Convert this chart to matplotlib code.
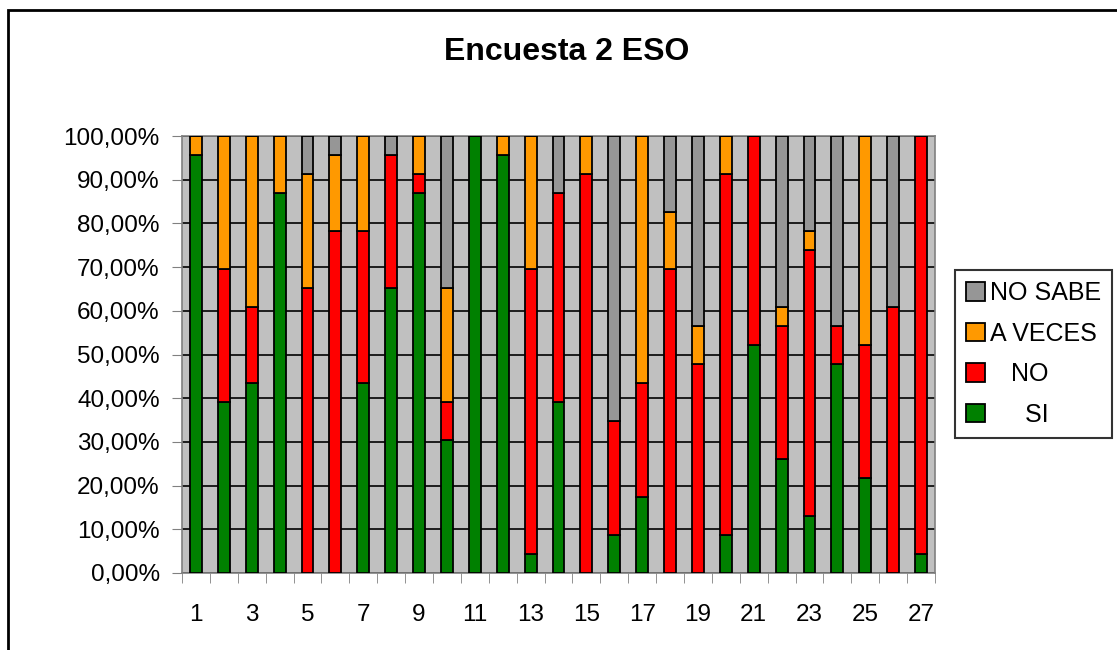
import matplotlib
matplotlib.use("Agg")
import matplotlib.pyplot as plt
from matplotlib.patches import Patch, Rectangle
from matplotlib.ticker import FixedLocator, FuncFormatter
import numpy as np

plt.rcParams['font.family'] = ['Liberation Sans', 'DejaVu Sans']

# porcentajes por pregunta (23 alumnos)
preguntas = list(range(1, 28))
si = [95.65, 39.13, 43.48, 86.96, 0, 0, 43.48, 65.22, 86.96, 30.43, 100, 95.65, 4.35, 39.13,
      0, 8.70, 17.39, 0, 0, 8.70, 52.17, 26.09, 13.04, 47.83, 21.74, 0, 4.35]
no = [0, 30.43, 17.39, 0, 65.22, 78.26, 34.78, 30.43, 4.35, 8.70, 0, 0, 65.22, 47.83,
      91.30, 26.09, 26.09, 69.57, 47.83, 82.61, 47.83, 30.43, 60.87, 8.70, 30.43, 60.87, 95.65]
a_veces = [4.35, 30.43, 39.13, 13.04, 26.09, 17.39, 21.74, 0, 8.70, 26.09, 0, 4.35, 30.43, 0,
           8.70, 0, 56.52, 13.04, 8.70, 8.70, 0, 4.35, 4.35, 0, 47.83, 0, 0]
no_sabe = [0, 0, 0, 0, 8.70, 4.35, 0, 4.35, 0, 34.78, 0, 0, 0, 13.04,
           0, 65.22, 0, 17.39, 43.48, 0, 0, 39.13, 21.74, 43.48, 0, 39.13, 0]

series = [("SI", si, "#008000"), ("NO", no, "#FF0000"),
          ("A VECES", a_veces, "#FF9900"), ("NO SABE", no_sabe, "#969696")]

fig = plt.figure(figsize=(11.17, 6.5), dpi=100)
ax = fig.add_axes([182 / 1117, 77 / 650, (935 - 182) / 1117, (573 - 136) / 650])
ax.set_facecolor("#C0C0C0")

x = np.arange(len(preguntas))
bottom = np.zeros(len(preguntas))
for name, vals, col in series:
    vals = np.array(vals)
    ax.bar(x, vals, width=0.43, bottom=bottom, color=col, edgecolor="black",
           linewidth=1.3, zorder=3)
    bottom += vals

ax.set_xlim(-0.5, len(preguntas) - 0.5)
ax.set_ylim(0, 100)
ax.set_yticks(np.arange(0, 101, 10))
ax.yaxis.set_major_formatter(FuncFormatter(lambda v, p: f"{v:.2f}%".replace(".", ",")))
ax.grid(axis="y", color="black", linewidth=1.2, zorder=1)

ax.xaxis.set_major_locator(FixedLocator(x[::2]))
ax.set_xticklabels([str(p) for p in preguntas[::2]])
ax.xaxis.set_minor_locator(FixedLocator(np.arange(-0.5, len(preguntas), 1)))
ax.tick_params(axis="x", which="major", length=0, pad=22, labelsize=17.5)
ax.tick_params(axis="x", which="minor", length=7, color="#808080", direction="out")
ax.tick_params(axis="y", length=7, color="#808080", labelsize=17.5, pad=9)

for s in ax.spines.values():
    s.set_color("#808080")
    s.set_linewidth(1.2)

fig.text(567 / 1117, 1 - 52 / 650, "Encuesta 2 ESO", ha="center", va="center",
         fontsize=23, fontweight="bold")

handles = [Patch(facecolor=c, edgecolor="black", linewidth=1.3) for _, _, c in series[::-1]]
labels = ["NO SABE", "A VECES", "   NO", "     SI"]
leg = fig.legend(handles, labels, loc="center left", bbox_to_anchor=(955 / 1117, 1 - 354 / 650),
                 fontsize=18, frameon=True, fancybox=False, edgecolor="black",
                 handlelength=0.75, handleheight=0.75, handletextpad=0.2,
                 labelspacing=0.66, borderpad=0.45, borderaxespad=0)
leg.get_frame().set_linewidth(1.5)

# marco exterior del gráfico (abierto por la derecha y por abajo, como en el original)
fig.add_artist(Rectangle((8 / 1117, -0.05), 1.1, 1.05 - 10 / 650, transform=fig.transFigure,
                         fill=False, edgecolor="black", linewidth=2, clip_on=False))

fig.savefig("out.png", dpi=100, facecolor="white")
